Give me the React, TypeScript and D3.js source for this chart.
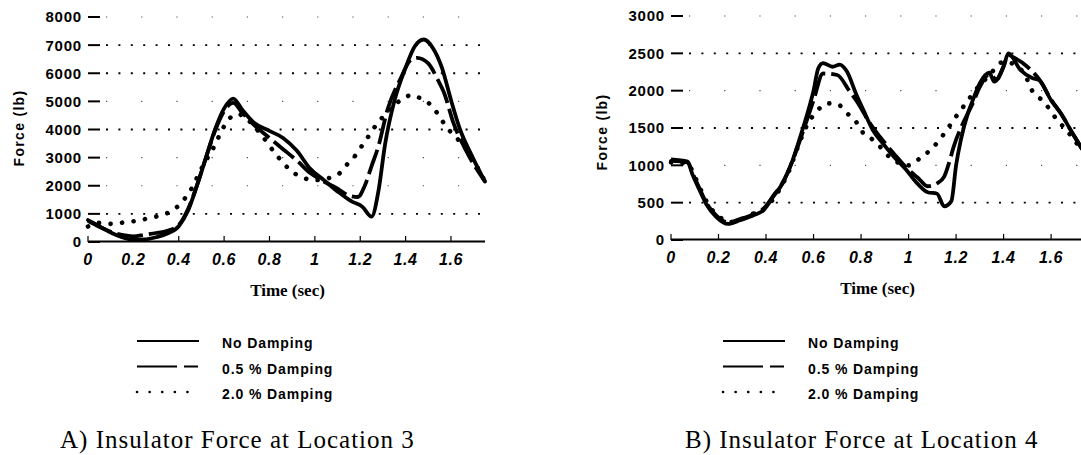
import React from "react";
import * as d3 from "d3";

// Time (sec), Force (lb) pairs
const loc3NoDamping: [number, number][] = [
  [0, 780], [0.05, 560], [0.1, 340], [0.15, 170], [0.2, 80], [0.25, 90], [0.3, 170], [0.35, 300],
  [0.4, 560], [0.44, 1100], [0.48, 2000], [0.52, 3000], [0.56, 4000], [0.6, 4750], [0.64, 5100],
  [0.68, 4700], [0.73, 4250], [0.8, 3950], [0.86, 3700], [0.92, 3250], [0.98, 2600], [1.04, 2200],
  [1.1, 1800], [1.16, 1450], [1.21, 1250], [1.25, 900], [1.28, 1800], [1.31, 3500], [1.35, 5000],
  [1.4, 6200], [1.44, 6950], [1.48, 7200], [1.52, 6900], [1.56, 6200], [1.6, 5050], [1.64, 4000],
  [1.69, 3100], [1.75, 2150],
];
const loc3HalfDamping: [number, number][] = [
  [0, 750], [0.05, 540], [0.1, 360], [0.15, 250], [0.2, 200], [0.25, 260], [0.3, 320], [0.35, 400],
  [0.4, 600], [0.44, 1150], [0.48, 2000], [0.52, 3000], [0.56, 3950], [0.6, 4650], [0.64, 4950],
  [0.68, 4600], [0.74, 4100], [0.8, 3700], [0.86, 3300], [0.92, 2900], [0.98, 2450], [1.04, 2150],
  [1.1, 1900], [1.15, 1650], [1.19, 1600], [1.22, 2000], [1.25, 2700], [1.28, 3400], [1.32, 4700],
  [1.38, 5850], [1.42, 6450], [1.45, 6550], [1.5, 6350], [1.54, 5800], [1.57, 5300], [1.61, 4250],
  [1.66, 3350], [1.75, 2150],
];
const loc3TwoDamping: [number, number][] = [
  [0, 550], [0.05, 680], [0.11, 640], [0.16, 700], [0.22, 760], [0.27, 850], [0.33, 970],
  [0.38, 1160], [0.42, 1480], [0.46, 1950], [0.49, 2450], [0.52, 2900], [0.55, 3300], [0.58, 3800],
  [0.61, 4250], [0.66, 4550], [0.71, 4300], [0.77, 3750], [0.83, 3100], [0.9, 2500], [0.95, 2280],
  [1.0, 2200], [1.05, 2250], [1.11, 2450], [1.14, 2740], [1.18, 3090], [1.21, 3450], [1.24, 3800],
  [1.27, 4160], [1.3, 4450], [1.34, 4800], [1.38, 5050], [1.43, 5230], [1.47, 5080], [1.52, 4800],
  [1.55, 4450], [1.58, 4090], [1.62, 3740], [1.66, 3380], [1.75, 2150],
];

const loc4NoDamping: [number, number][] = [
  [0, 1060], [0.07, 1040], [0.09, 880], [0.12, 670], [0.15, 470], [0.19, 310], [0.24, 215],
  [0.29, 265], [0.35, 335], [0.39, 400], [0.43, 580], [0.47, 760], [0.51, 1050], [0.54, 1340],
  [0.57, 1650], [0.6, 2000], [0.62, 2300], [0.64, 2370], [0.68, 2320], [0.71, 2350], [0.74, 2260],
  [0.78, 1950], [0.81, 1740], [0.85, 1470], [0.89, 1300], [0.94, 1110], [0.99, 940], [1.03, 780],
  [1.08, 640], [1.12, 620], [1.15, 450], [1.18, 520], [1.2, 1000], [1.22, 1340], [1.25, 1700],
  [1.27, 1870], [1.3, 2100], [1.34, 2240], [1.36, 2120], [1.4, 2320], [1.42, 2500], [1.47, 2280],
  [1.52, 2170], [1.55, 2140], [1.6, 1870], [1.64, 1700], [1.69, 1430], [1.73, 1220],
];
const loc4HalfDamping: [number, number][] = [
  [0, 1080], [0.07, 1050], [0.09, 900], [0.12, 690], [0.15, 490], [0.19, 330], [0.24, 235],
  [0.29, 280], [0.35, 350], [0.39, 420], [0.43, 590], [0.47, 770], [0.51, 1050], [0.55, 1400],
  [0.6, 1870], [0.64, 2230], [0.7, 2210], [0.75, 2000], [0.79, 1820], [0.83, 1600], [0.88, 1380],
  [0.94, 1150], [0.99, 970], [1.04, 830], [1.08, 720], [1.12, 760], [1.15, 850], [1.17, 1030],
  [1.19, 1250], [1.23, 1570], [1.27, 1830], [1.3, 2050], [1.34, 2220], [1.37, 2150], [1.4, 2330],
  [1.42, 2480], [1.44, 2450], [1.5, 2320], [1.55, 2150], [1.6, 1880], [1.64, 1700], [1.69, 1430],
  [1.73, 1220],
];
const loc4TwoDamping: [number, number][] = [
  [0, 1040], [0.07, 1020], [0.1, 850], [0.13, 640], [0.16, 460], [0.2, 320], [0.25, 240],
  [0.3, 280], [0.35, 360], [0.4, 440], [0.45, 640], [0.5, 950], [0.54, 1300], [0.58, 1580],
  [0.61, 1710], [0.66, 1830], [0.7, 1820], [0.74, 1700], [0.78, 1580], [0.8, 1470], [0.85, 1340],
  [0.88, 1250], [0.92, 1110], [0.96, 1030], [1.0, 1000], [1.05, 1100], [1.09, 1200], [1.13, 1340],
  [1.16, 1470], [1.19, 1610], [1.22, 1740], [1.25, 1870], [1.28, 2000], [1.32, 2140], [1.36, 2280],
  [1.4, 2390], [1.45, 2340], [1.49, 2210], [1.52, 2000], [1.57, 1850], [1.62, 1630], [1.67, 1450],
  [1.73, 1200],
];

const xTicks = [0, 0.2, 0.4, 0.6, 0.8, 1, 1.2, 1.4, 1.6];
const loc3YTicks = [0, 1000, 2000, 3000, 4000, 5000, 6000, 7000, 8000];
const loc3DenseGrid = [1000, 4000, 6000, 7000];
const loc4YTicks = [0, 500, 1000, 1500, 2000, 2500, 3000];
const loc4DenseGrid = [500, 1500, 2500];
const legendLabels = ["No Damping", "0.5 % Damping", "2.0 % Damping"];
const captions = ["A) Insulator Force at Location 3", "B) Insulator Force at Location 4"];

const styles = [
  { dash: undefined, cap: "round" as const, width: 3.8 },
  { dash: "26,6", cap: "butt" as const, width: 3.8 },
  { dash: "0.1,11.5", cap: "round" as const, width: 4.6 },
];
const legendDash = [undefined, "40,7,14,200", "0.1,12.5"];

const sans = "'Liberation Sans', Arial, sans-serif";
const serif = "'Liberation Serif', 'Times New Roman', serif";

type PanelProps = {
  series: [number, number][][];
  xMax: number;
  xRange: [number, number];
  yMax: number;
  yRange: [number, number];
  yTicks: number[];
  denseGrid: number[];
  yLabelX: number;
  yLabelY: number;
  legendX: number;
  captionX: number;
  caption: string;
};

function Panel(p: PanelProps) {
  const x = d3.scaleLinear().domain([0, p.xMax]).range(p.xRange);
  const y = d3.scaleLinear().domain([0, p.yMax]).range(p.yRange);
  const line = d3
    .line<[number, number]>()
    .x((d) => x(d[0]))
    .y((d) => y(d[1]))
    .curve(d3.curveMonotoneX);
  const x0 = p.xRange[0];
  const x1 = p.xRange[1];
  const mid = (x0 + x1) / 2;

  return (
    <g>
      {/* grid */}
      {p.yTicks
        .filter((t) => t > 0)
        .map((t) => {
          const dense = p.denseGrid.includes(t);
          return (
            <line
              key={"g" + t}
              x1={x0 + 18}
              x2={x1 - 2}
              y1={y(t)}
              y2={y(t)}
              stroke="#000"
              strokeWidth={dense ? 1.8 : 1.2}
              strokeDasharray={dense ? "2,10.4" : "1.2,34"}
              opacity={dense ? 1 : 0.7}
            />
          );
        })}
      {/* y ticks */}
      {p.yTicks.map((t) => (
        <g key={"y" + t}>
          <line x1={x0} x2={x0 + 12} y1={y(t)} y2={y(t)} stroke="#000" strokeWidth={2} />
          <text
            x={x0 - 6}
            y={y(t)}
            dy="0.36em"
            textAnchor="end"
            fontFamily={sans}
            fontWeight="bold"
            fontSize={15}
            letterSpacing={0.8}
          >
            {t}
          </text>
        </g>
      ))}
      {/* x axis */}
      <line x1={x0} x2={x1} y1={y(0) - 0.5} y2={y(0) - 0.5} stroke="#000" strokeWidth={1.8} />
      {xTicks.map((t) => (
        <g key={"x" + t}>
          <line x1={x(t)} x2={x(t)} y1={y(0)} y2={y(0) - 6} stroke="#000" strokeWidth={1.2} />
          <text
            x={x(t)}
            y={y(0) + 23}
            textAnchor="middle"
            fontFamily={sans}
            fontWeight="bold"
            fontStyle="italic"
            fontSize={16}
            letterSpacing={0.6}
          >
            {t}
          </text>
        </g>
      ))}
      <text
        x={mid + 1}
        y={y(0) + 54}
        textAnchor="middle"
        fontFamily={serif}
        fontWeight="bold"
        fontSize={17}
      >
        Time (sec)
      </text>
      <text
        transform={`translate(${p.yLabelX},${p.yLabelY}) rotate(-90)`}
        textAnchor="middle"
        fontFamily={sans}
        fontWeight="bold"
        fontSize={14}
        letterSpacing={1.3}
      >
        Force (lb)
      </text>
      {/* curves */}
      {p.series.map((s, i) => (
        <path
          key={"s" + i}
          d={line(s) ?? ""}
          fill="none"
          stroke="#000"
          strokeWidth={styles[i].width}
          strokeDasharray={styles[i].dash}
          strokeLinecap={styles[i].cap}
          strokeLinejoin="round"
        />
      ))}
      {/* legend */}
      {legendLabels.map((lab, i) => (
        <g key={"l" + i} transform={`translate(${p.legendX},${341 + i * 25.5})`}>
          <line
            x1={0}
            x2={62}
            y1={0}
            y2={0}
            stroke="#000"
            strokeWidth={i === 2 ? 2.6 : 2.2}
            strokeDasharray={legendDash[i]}
            strokeLinecap={i === 2 ? "round" : "butt"}
          />
          <text
            x={85}
            y={7}
            fontFamily={sans}
            fontWeight="bold"
            fontSize={14}
            letterSpacing={0.9}
          >
            {lab}
          </text>
        </g>
      ))}
      <text x={p.captionX} y={448} fontFamily={serif} fontSize={25} letterSpacing={1}>
        {p.caption}
      </text>
    </g>
  );
}

export default function App() {
  return (
    <svg
      width={1081}
      height={455}
      style={{ position: "absolute", left: 0, top: 0, background: "#fff" }}
    >
      <Panel
        series={[loc3NoDamping, loc3HalfDamping, loc3TwoDamping]}
        xMax={1.75}
        xRange={[88, 485]}
        yMax={8000}
        yRange={[242, 17]}
        yTicks={loc3YTicks}
        denseGrid={loc3DenseGrid}
        yLabelX={24}
        yLabelY={128}
        legendX={137}
        captionX={60}
        caption={captions[0]}
      />
      <Panel
        series={[loc4NoDamping, loc4HalfDamping, loc4TwoDamping]}
        xMax={1.73}
        xRange={[671, 1082]}
        yMax={3000}
        yRange={[240, 16]}
        yTicks={loc4YTicks}
        denseGrid={loc4DenseGrid}
        yLabelX={607}
        yLabelY={132}
        legendX={723}
        captionX={685}
        caption={captions[1]}
      />
    </svg>
  );
}
